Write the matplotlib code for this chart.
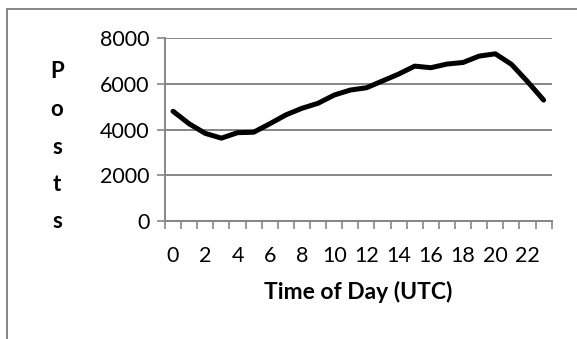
import numpy as np
import matplotlib
matplotlib.use("Agg")
import matplotlib.pyplot as plt
from matplotlib.patches import Rectangle

# posts per hour
hours = list(range(24))
posts = [4800, 4250, 3830, 3620, 3860, 3880, 4250, 4640, 4930, 5150,
         5510, 5730, 5830, 6130, 6430, 6780, 6710, 6870, 6940, 7220,
         7320, 6860, 6100, 5290]
tick_hours = list(range(0, 24, 2))
y_ticks = [0, 2000, 4000, 6000, 8000]
ylabel_letters = ['P', 'o', 's', 't', 's']

plt.rcParams['font.family'] = ['Lato', 'DejaVu Sans']
grey = '#868686'

fig = plt.figure(figsize=(5.77, 3.39), dpi=100)
ax = fig.add_axes([165/577, 1-220.7/339, (551.7-165)/577, (220.7-38.3)/339])

ax.plot(hours, posts, color='black', lw=3.6, solid_joinstyle='round', solid_capstyle='round')

ax.set_xlim(-0.5, 23.5)
ax.set_ylim(0, 8000)

# y axis
ax.set_yticks(y_ticks)
ax.set_yticklabels([str(v) for v in y_ticks], fontsize=15.5)
ax.yaxis.grid(True, color=grey, lw=1.4)
ax.tick_params(axis='y', length=6, width=1.2, color=grey, pad=5)

# x axis: ticks between categories, labels on every second category
ax.set_xticks(np.arange(-0.5, 24, 1))
ax.set_xticklabels([])
ax.tick_params(axis='x', which='major', length=5.5, width=1.2, color=grey)
ax.set_xticks(tick_hours, minor=True)
ax.set_xticklabels([str(h) for h in tick_hours], minor=True, fontsize=15.5)
ax.tick_params(axis='x', which='minor', length=0, pad=18)

for s in ['top', 'right']:
    ax.spines[s].set_visible(False)
for s in ['left', 'bottom']:
    ax.spines[s].set_color(grey)
    ax.spines[s].set_linewidth(1.4)
ax.set_axisbelow(True)

ax.set_xlabel('Time of Day (UTC)', fontsize=16.5, fontweight='bold', labelpad=11)

# stacked "Posts" label, one letter per line
for i, ch in enumerate(ylabel_letters):
    fig.text(57/577, 1-(72+37.5*i)/339, ch, fontsize=16, fontweight='bold',
             ha='center', va='center')

# outer chart border (only top and left visible in the crop)
fig.patches.append(Rectangle((7/577, -0.1), 1.2, 1-9/339+0.1, transform=fig.transFigure,
                             fill=False, edgecolor=grey, lw=1.4))

fig.savefig('out.png', dpi=100)
